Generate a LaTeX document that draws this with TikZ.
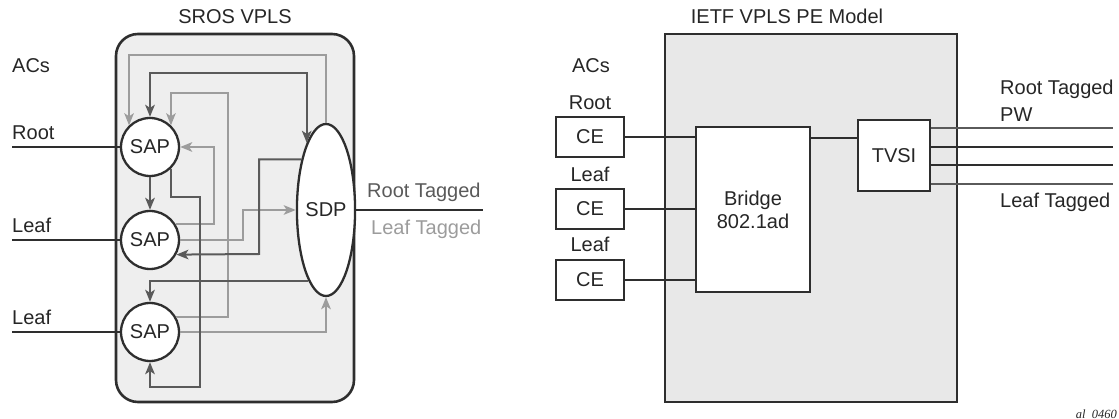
\documentclass[tikz,border=0pt]{standalone}
\usepackage{fontspec}
\setmainfont{Liberation Sans}
\newfontfamily\serifit{Liberation Serif}
\usetikzlibrary{arrows.meta,shapes.geometric}
\definecolor{dk}{HTML}{5A5A5A}
\definecolor{lt}{HTML}{9C9C9C}
\definecolor{ol}{HTML}{2E2E2E}
\definecolor{txt}{HTML}{262626}
\definecolor{bgl}{HTML}{EEEEEE}
\definecolor{bgr}{HTML}{E8E8E8}
\begin{document}
\begin{tikzpicture}[x=1pt,y=-1pt,
  every node/.style={font=\fontsize{20}{23}\selectfont, text=txt, inner sep=0pt},
  >={Stealth[length=12pt,width=9.5pt,inset=3pt]},
  panel/.style={draw=ol, line width=2.6pt},
  sapnode/.style={circle, draw=ol, line width=2.3pt, fill=white, minimum size=58pt},
  sdpnode/.style={ellipse, draw=ol, line width=2.3pt, fill=white, minimum width=54pt, minimum height=172pt},
  boxnode/.style={rectangle, draw=ol, line width=2.3pt, fill=white},
  dkline/.style={draw=dk, line width=2pt},
  ltline/.style={draw=lt, line width=2pt},
  wire/.style={draw=ol, line width=1.7pt},
  lbl/.style={anchor=base west},
  ctr/.style={anchor=base}]
\useasboundingbox (0,0) rectangle (1119,419);

% ---------- left: SROS VPLS ----------
\node[ctr] (t1) at (235,24) {SROS VPLS};
\filldraw[panel, fill=bgl, rounded corners=22pt] (116,34) rectangle (354,402);

\node[sapnode] (SAP1) at (150,147) {SAP};
\node[sapnode] (SAP2) at (150,240) {SAP};
\node[sapnode] (SAP3) at (150,332) {SAP};
\node[sdpnode] (SDP) at (326,210) {SDP};

\node[lbl] (acl) at (12,73) {ACs};
\node[lbl] (rl) at (12,140) {Root};
\node[lbl] (ll1) at (12,233) {Leaf};
\node[lbl] (ll2) at (12,325) {Leaf};
\coordinate (a1) at (12,147);
\coordinate (a2) at (12,240);
\coordinate (a3) at (12,332);
\draw[wire] (a1) -- (SAP1.west);
\draw[wire] (a2) -- (SAP2.west);
\draw[wire] (a3) -- (SAP3.west);

\coordinate (sdpo) at (483,210);
\draw[wire] (SDP.east) -- (sdpo);
\node[lbl, text=dk] (rtl) at (367,198) {Root Tagged};
\node[lbl, text=lt] (ltl) at (371,235) {Leaf Tagged};

% light paths
\draw[ltline,->] (SDP.north) |- (SAP1.134 |- 0,55) -- (SAP1.134);
\draw[ltline,->] (SAP3.29) -| (228,93) -| (SAP1.46);
\draw[ltline,->] (SAP2.31) -| (214,147) -- (SAP1.east);
\draw[ltline,->] (SAP2.east) -| (243,210) -- (SDP.west);
\draw[ltline,->] (SAP3.east) -| (SDP.south);
% dark paths
\draw[dkline,<->] (SAP1.north) |- (SDP.106 |- 0,73) -- (SDP.106);
\draw[dkline,->] (SAP1) -- (SAP2);
\draw[dkline,->] (SAP1.-46) |- (200,197) |- (SAP3.south |- 0,387) -- (SAP3.south);
\draw[dkline,->] (SDP.116) -| (259,254) -- (SAP2.-29);
\draw[dkline,->] (SDP.256) -| (SAP3.north);

% ---------- right: IETF VPLS PE Model ----------
\node[ctr] (t2) at (787,24) {IETF VPLS PE Model};
\filldraw[panel, fill=bgr] (665,34) rectangle (957,402);

\node[ctr] (acr) at (591,73) {ACs};
\node[ctr] (rr) at (590,110) {Root};
\node[ctr] (lr1) at (590,182) {Leaf};
\node[ctr] (lr2) at (590,252) {Leaf};

\node[boxnode, minimum width=68pt, minimum height=40pt] (CE1) at (590,137) {CE};
\node[boxnode, minimum width=68pt, minimum height=40pt] (CE2) at (590,209) {CE};
\node[boxnode, minimum width=68pt, minimum height=40pt] (CE3) at (590,280) {CE};
\node[boxnode, minimum width=114pt, minimum height=165pt, align=center] (BR) at (753,209.5) {Bridge\\802.1ad};
\node[boxnode, minimum width=72pt, minimum height=71pt] (TVSI) at (894,155.5) {TVSI};

\draw[wire] (CE1.east) -- (CE1 -| BR.west);
\draw[wire] (CE2.east) -- (CE2 -| BR.west);
\draw[wire] (CE3.east) -- (CE3 -| BR.west);
\draw[wire] (BR.east |- 0,138) -- (TVSI.west |- 0,138);

\coordinate (p1) at (1113,128);
\coordinate (p2) at (1113,147);
\coordinate (p3) at (1113,165);
\coordinate (p4) at (1113,184);
\draw[wire, draw=dk] (TVSI.east |- p1) -- (p1);
\draw[wire] (TVSI.east |- p2) -- (p2);
\draw[wire] (TVSI.east |- p3) -- (p3);
\draw[wire, draw=dk] (TVSI.east |- p4) -- (p4);

\node[lbl] (rtr) at (1000,95) {Root Tagged};
\node[lbl] (pw) at (1000,122) {PW};
\node[lbl] (ltr) at (1000,208) {Leaf Tagged};

\node[anchor=base east, font=\serifit\itshape\fontsize{12.5}{14}\selectfont] (id) at (1117,418) {al\_0460};
\end{tikzpicture}
\end{document}
